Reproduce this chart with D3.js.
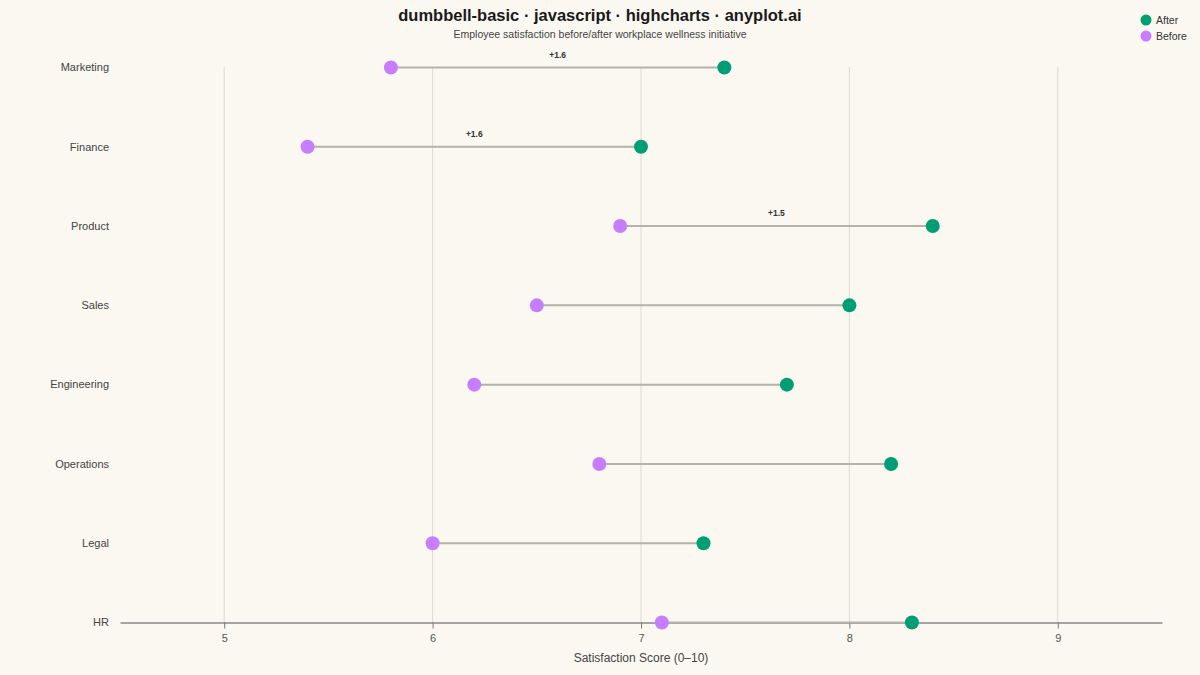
<!DOCTYPE html>
<html><head><meta charset="utf-8">
<script src="https://cdn.jsdelivr.net/npm/d3@7"></script>
<style>html,body{margin:0;padding:0;background:#FAF8F1;}svg{display:block;font-family:"Liberation Sans",Arial,Helvetica,sans-serif;}</style>
</head><body><svg id="c" width="1200" height="675"></svg>
<script>
const categories = ["Marketing","Finance","Product","Sales","Engineering","Operations","Legal","HR"];
const before = [5.8,5.4,6.9,6.5,6.2,6.8,6.0,7.1];
const after = [7.4,7.0,8.4,8.0,7.7,8.2,7.3,8.3];
const xTicks = [5,6,7,8,9];
const labeledCount = 3;

const svg = d3.select("#c");
const W = 1200, H = 675;
const cAfter = "#009E73", cBefore = "#C77DFF";
svg.append("rect").attr("width",W).attr("height",H).attr("fill","#FAF8F1");

const x = d3.scaleLinear().domain([4.5,9.5]).range([120,1162]);
const y = d3.scalePoint().domain(categories).range([67.5,622.5]);

// gridlines
svg.append("g").selectAll("line").data(xTicks).join("line")
  .attr("x1",d=>x(d)).attr("x2",d=>x(d)).attr("y1",67).attr("y2",622)
  .attr("stroke","#dcdad3").attr("stroke-width",1);

// axis
const ax = svg.append("g").attr("transform","translate(0,622.5)")
  .call(d3.axisBottom(x).tickValues(xTicks).tickSize(6).tickSizeOuter(0).tickPadding(6).tickFormat(d3.format("d")));
ax.select(".domain").attr("stroke","#888").attr("stroke-width",1.5);
ax.selectAll(".tick line").attr("stroke","#777").attr("y1",0).attr("y2",6);
ax.selectAll(".tick text").attr("fill","#555").attr("font-size",11).attr("font-family","Liberation Sans, Arial, sans-serif");

svg.append("text").attr("x",641).attr("y",662).attr("text-anchor","middle")
  .attr("fill","#444").attr("font-size",12).text("Satisfaction Score (0–10)");

// category labels
svg.append("g").selectAll("text").data(categories).join("text")
  .attr("x",109).attr("y",d=>y(d)).attr("dy","0.35em").attr("text-anchor","end")
  .attr("fill","#444").attr("font-size",11).text(d=>d);

const rows = categories.map((c,i)=>({c, b:before[i], a:after[i], i}));

// connectors
svg.append("g").selectAll("line").data(rows).join("line")
  .attr("x1",d=>x(d.b)).attr("x2",d=>x(d.a)).attr("y1",d=>y(d.c)).attr("y2",d=>y(d.c))
  .attr("stroke","#b5b2ab").attr("stroke-width",2);

// diff labels
svg.append("g").selectAll("text").data(rows.filter(d=>d.i<labeledCount)).join("text")
  .attr("x",d=>x((d.a+d.b)/2)).attr("y",d=>y(d.c)-10).attr("text-anchor","middle")
  .attr("fill","#333").attr("font-size",8.5).attr("font-weight","bold")
  .text(d=>"+"+(d.a-d.b).toFixed(1));

// dots
svg.append("g").selectAll("circle").data(rows).join("circle")
  .attr("cx",d=>x(d.b)).attr("cy",d=>y(d.c)).attr("r",7).attr("fill",cBefore);
svg.append("g").selectAll("circle").data(rows).join("circle")
  .attr("cx",d=>x(d.a)).attr("cy",d=>y(d.c)).attr("r",7).attr("fill",cAfter);

// title
svg.append("text").attr("x",600).attr("y",21).attr("text-anchor","middle")
  .attr("fill","#1a1a1a").attr("font-size",16.5).attr("font-weight","bold")
  .text("dumbbell-basic · javascript · highcharts · anyplot.ai");
svg.append("text").attr("x",600).attr("y",38).attr("text-anchor","middle")
  .attr("fill","#444").attr("font-size",10.5).text("Employee satisfaction before/after workplace wellness initiative");

// legend
const leg = [{n:"After",c:cAfter},{n:"Before",c:cBefore}];
const lg = svg.append("g").selectAll("g").data(leg).join("g")
  .attr("transform",(d,i)=>`translate(1146,${20+i*16})`);
lg.append("circle").attr("r",5.5).attr("fill",d=>d.c);
lg.append("text").attr("x",10).attr("dy","0.35em").attr("font-size",10.5).attr("fill","#333").text(d=>d.n);
</script></body></html>
